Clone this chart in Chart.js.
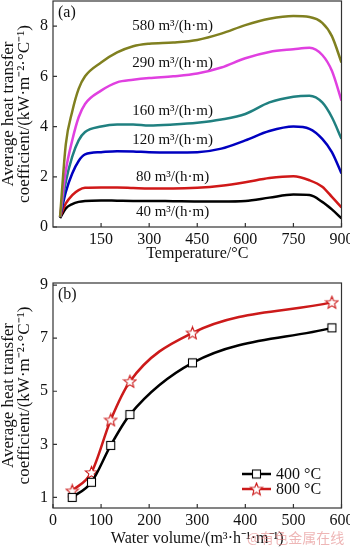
<!DOCTYPE html>
<html>
<head>
<meta charset="utf-8">
<script src="https://cdn.jsdelivr.net/npm/chart.js@4.4.1/dist/chart.umd.min.js"></script>
<style>
  html, body { margin: 0; padding: 0; background: #fff; }
  canvas { display: block; }
</style>
</head>
<body>
<canvas id="chartA" width="350" height="270"></canvas>
<canvas id="chartB" width="350" height="278"></canvas>
<script>
// ---------------- Data: panel (a), heat transfer vs temperature ----------------
const temps = [22, 40, 60, 80, 100, 150, 200, 250, 300, 375, 450, 525, 600, 675, 750, 800, 840, 870, 900];
const htc580 = [0.4, 3.3, 4.6, 5.5, 6.0, 6.55, 6.95, 7.2, 7.3, 7.35, 7.45, 7.7, 8.04, 8.29, 8.4, 8.36, 8.13, 7.6, 6.55];
const htc290 = [0.4, 2.25, 3.45, 4.37, 4.9, 5.43, 5.76, 5.86, 5.93, 6.0, 6.11, 6.35, 6.72, 6.97, 7.08, 7.14, 6.85, 6.22, 5.03];
const htc160 = [0.4, 1.8, 2.8, 3.45, 3.78, 4.0, 4.08, 4.08, 4.04, 4.08, 4.15, 4.28, 4.5, 4.96, 5.19, 5.23, 4.96, 4.37, 3.51];
const htc120 = [0.4, 1.4, 2.13, 2.63, 2.89, 2.98, 3.02, 3.01, 2.98, 2.97, 2.98, 3.12, 3.45, 3.82, 4.0, 3.91, 3.51, 2.98, 2.13];
const htc80  = [0.4, 0.94, 1.27, 1.47, 1.56, 1.57, 1.57, 1.55, 1.53, 1.53, 1.56, 1.64, 1.78, 1.95, 2.02, 1.86, 1.6, 1.2, 0.78];
const htc40  = [0.35, 0.74, 0.91, 1.0, 1.04, 1.06, 1.05, 1.04, 1.04, 1.03, 1.02, 1.02, 1.04, 1.17, 1.29, 1.27, 1.0, 0.7, 0.34];
const flowNames = ["580 m³/(h·m)", "290 m³/(h·m)", "160 m³/(h·m)", "120 m³/(h·m)", "80 m³/(h·m)", "40 m³/(h·m)"];
const tempTicks = [150, 300, 450, 600, 750, 900];
const htcTicksA = [0, 2, 4, 6, 8];

// ---------------- Data: panel (b), heat transfer vs water volume ----------------
const waterVolumes = [40, 80, 120, 160, 290, 580];
const htc400C = [1.0, 1.57, 2.96, 4.12, 6.07, 7.39];
const htc800C = [1.25, 1.94, 3.92, 5.37, 7.2, 8.35];
const volumeTicks = [0, 100, 200, 300, 400, 500, 600];
const htcTicksB = [1, 3, 5, 7, 9];

// ---------------- Styles ----------------
const SERIF = "'Liberation Serif', 'Times New Roman', serif";
const INK = "#111";
const flowColors = ["#808020", "#e040e0", "#208080", "#0000c0", "#d01818", "#000000"];
const curveLabelTemp = 373;
const curveLabelLevels = [8.0, 6.53, 4.63, 3.45, 1.98, 0.59];
const yTitle = ["Average heat transfer", "coefficient/(kW·m⁻²·°C⁻¹)"];

// boxed frame with inward ticks on bottom and left
const framePlugin = {
  id: "frame",
  afterDraw(chart) {
    const { ctx, chartArea: a, scales } = chart;
    ctx.save();
    ctx.strokeStyle = "#333";
    ctx.lineWidth = 1.2;
    ctx.strokeRect(a.left, a.top, a.right - a.left, a.bottom - a.top);
    ctx.beginPath();
    scales.x.ticks.forEach(t => {
      const px = scales.x.getPixelForValue(t.value);
      ctx.moveTo(px, a.bottom);
      ctx.lineTo(px, a.bottom - 4);
    });
    scales.y.ticks.forEach(t => {
      const py = scales.y.getPixelForValue(t.value);
      ctx.moveTo(a.left, py);
      ctx.lineTo(a.left + 4, py);
    });
    ctx.stroke();
    ctx.restore();
  }
};

function panelTag(text) {
  return {
    id: "tag",
    afterDraw(chart) {
      const { ctx, chartArea: a } = chart;
      ctx.save();
      ctx.font = "16px " + SERIF;
      ctx.fillStyle = INK;
      ctx.textBaseline = "middle";
      ctx.fillText(text, a.left + 5, a.top + 12);
      ctx.restore();
    }
  };
}

function fixBox(w, h) {
  return s => {
    if (w !== null) s.width = w;
    if (h !== null) s.height = h;
    s.paddingLeft = 0; s.paddingRight = 0; s.paddingTop = 0; s.paddingBottom = 0;
  };
}

const noGrid = { display: false, drawTicks: false, tickLength: 0 };
const tickFont = { family: SERIF, size: 16 };

// ---------------- Panel (a) ----------------
const curveLabels = {
  id: "curveLabels",
  afterDatasetsDraw(chart) {
    const { ctx, scales } = chart;
    ctx.save();
    ctx.font = "15px " + SERIF;
    ctx.fillStyle = INK;
    ctx.textAlign = "center";
    ctx.textBaseline = "middle";
    flowNames.forEach((name, i) => {
      ctx.fillText(name, scales.x.getPixelForValue(curveLabelTemp), scales.y.getPixelForValue(curveLabelLevels[i]));
    });
    ctx.restore();
  }
};

const seriesA = [htc580, htc290, htc160, htc120, htc80, htc40];
new Chart(document.getElementById("chartA"), {
  type: "line",
  data: {
    datasets: seriesA.map((vals, i) => ({
      label: flowNames[i],
      data: temps.map((t, j) => ({ x: t, y: vals[j] })),
      borderColor: flowColors[i],
      borderWidth: 2.5,
      pointRadius: 0,
      cubicInterpolationMode: "monotone",
      fill: false
    }))
  },
  options: {
    responsive: false,
    animation: false,
    layout: { padding: { top: 1, right: 8.5, left: 0, bottom: 0 } },
    plugins: { legend: { display: false }, tooltip: { enabled: false } },
    scales: {
      x: {
        type: "linear", min: 0, max: 900,
        grid: noGrid, border: { display: false },
        afterBuildTicks: s => { s.ticks = tempTicks.map(v => ({ value: v })); },
        afterFit: fixBox(null, 43),
        ticks: { color: INK, font: tickFont, padding: 3, maxRotation: 0, autoSkip: false },
        title: { display: true, text: "Temperature/°C", color: INK, font: { family: SERIF, size: 16 }, padding: { top: 0, bottom: 7 } }
      },
      y: {
        min: 0, max: 9,
        grid: noGrid, border: { display: false },
        afterBuildTicks: s => { s.ticks = htcTicksA.map(v => ({ value: v })); },
        afterFit: fixBox(53, null),
        ticks: { color: INK, font: tickFont, padding: 5, autoSkip: false },
        title: { display: true, text: yTitle, color: INK, font: { family: SERIF, size: 17, lineHeight: "16px" }, padding: { top: 1, bottom: 0 } }
      }
    }
  },
  plugins: [framePlugin, curveLabels, panelTag("(a)")]
});

// ---------------- Panel (b) ----------------
function starImage(color) {
  const c = document.createElement("canvas");
  c.width = 15; c.height = 15;
  const g = c.getContext("2d");
  const R = 6.5, r = 2.8;
  g.beginPath();
  for (let i = 0; i < 10; i++) {
    const ang = -Math.PI / 2 + i * Math.PI / 5;
    const rad = i % 2 ? r : R;
    g.lineTo(7.5 + rad * Math.cos(ang), 8 + rad * Math.sin(ang));
  }
  g.closePath();
  g.fillStyle = "#fff"; g.fill();
  g.strokeStyle = color; g.lineWidth = 1.1; g.stroke();
  return c;
}
function squareImage(color) {
  const c = document.createElement("canvas");
  c.width = 11; c.height = 11;
  const g = c.getContext("2d");
  g.fillStyle = "#fff"; g.fillRect(1, 1, 9, 9);
  g.strokeStyle = color; g.lineWidth = 1.1; g.strokeRect(1.5, 1.5, 8, 8);
  return c;
}

const seriesB = [
  { name: "400 °C", values: htc400C, color: "#000000", marker: squareImage("#000000") },
  { name: "800 °C", values: htc800C, color: "#cc1a1a", marker: starImage("#cc1a1a") }
];

const legendB = {
  id: "legendB",
  afterDraw(chart) {
    const { ctx, chartArea: a } = chart;
    ctx.save();
    ctx.font = "16px " + SERIF;
    ctx.fillStyle = INK;
    ctx.textBaseline = "middle";
    seriesB.forEach((s, i) => {
      const y = a.bottom - 34 + i * 15;
      ctx.strokeStyle = s.color;
      ctx.lineWidth = 2.5;
      ctx.beginPath();
      ctx.moveTo(a.right - 99.5, y);
      ctx.lineTo(a.right - 70.5, y);
      ctx.stroke();
      const m = s.marker;
      ctx.drawImage(m, a.right - 85 - m.width / 2, y - m.height / 2);
      ctx.fillText(s.name, a.right - 65.5, y + 1);
    });
    ctx.restore();
  }
};

const watermark = {
  id: "watermark",
  afterDraw(chart) {
    const { ctx } = chart;
    ctx.save();
    ctx.globalAlpha = 0.55;
    ctx.font = "14px 'Noto Sans CJK SC', sans-serif";
    ctx.fillStyle = "#e07a7a";
    ctx.textBaseline = "middle";
    ctx.fillText("@有色金属在线", 247, 268);
    ctx.restore();
  }
};

new Chart(document.getElementById("chartB"), {
  type: "line",
  data: {
    datasets: seriesB.map(s => ({
      label: s.name,
      data: waterVolumes.map((v, j) => ({ x: v, y: s.values[j] })),
      borderColor: s.color,
      borderWidth: 2.5,
      pointStyle: s.marker,
      cubicInterpolationMode: "monotone",
      fill: false
    }))
  },
  options: {
    responsive: false,
    animation: false,
    layout: { padding: { top: 13, right: 8.5, left: 0, bottom: 0 } },
    plugins: { legend: { display: false }, tooltip: { enabled: false } },
    scales: {
      x: {
        type: "linear", min: 0, max: 600,
        grid: noGrid, border: { display: false },
        afterBuildTicks: s => { s.ticks = volumeTicks.map(v => ({ value: v })); },
        afterFit: fixBox(null, 40),
        ticks: { color: INK, font: tickFont, padding: 3, maxRotation: 0, autoSkip: false },
        title: { display: true, text: "Water volume/(m³·h⁻¹·m⁻¹)", color: INK, font: { family: SERIF, size: 16 }, padding: { top: 0, bottom: 0 } }
      },
      y: {
        min: 0.6, max: 9.08,
        grid: noGrid, border: { display: false },
        afterBuildTicks: s => { s.ticks = htcTicksB.map(v => ({ value: v })); },
        afterFit: fixBox(53, null),
        ticks: { color: INK, font: tickFont, padding: 5, autoSkip: false },
        title: { display: true, text: yTitle, color: INK, font: { family: SERIF, size: 17, lineHeight: "16px" }, padding: { top: 1, bottom: 0 } }
      }
    }
  },
  plugins: [framePlugin, legendB, watermark, panelTag("(b)")]
});
</script>
</body>
</html>
